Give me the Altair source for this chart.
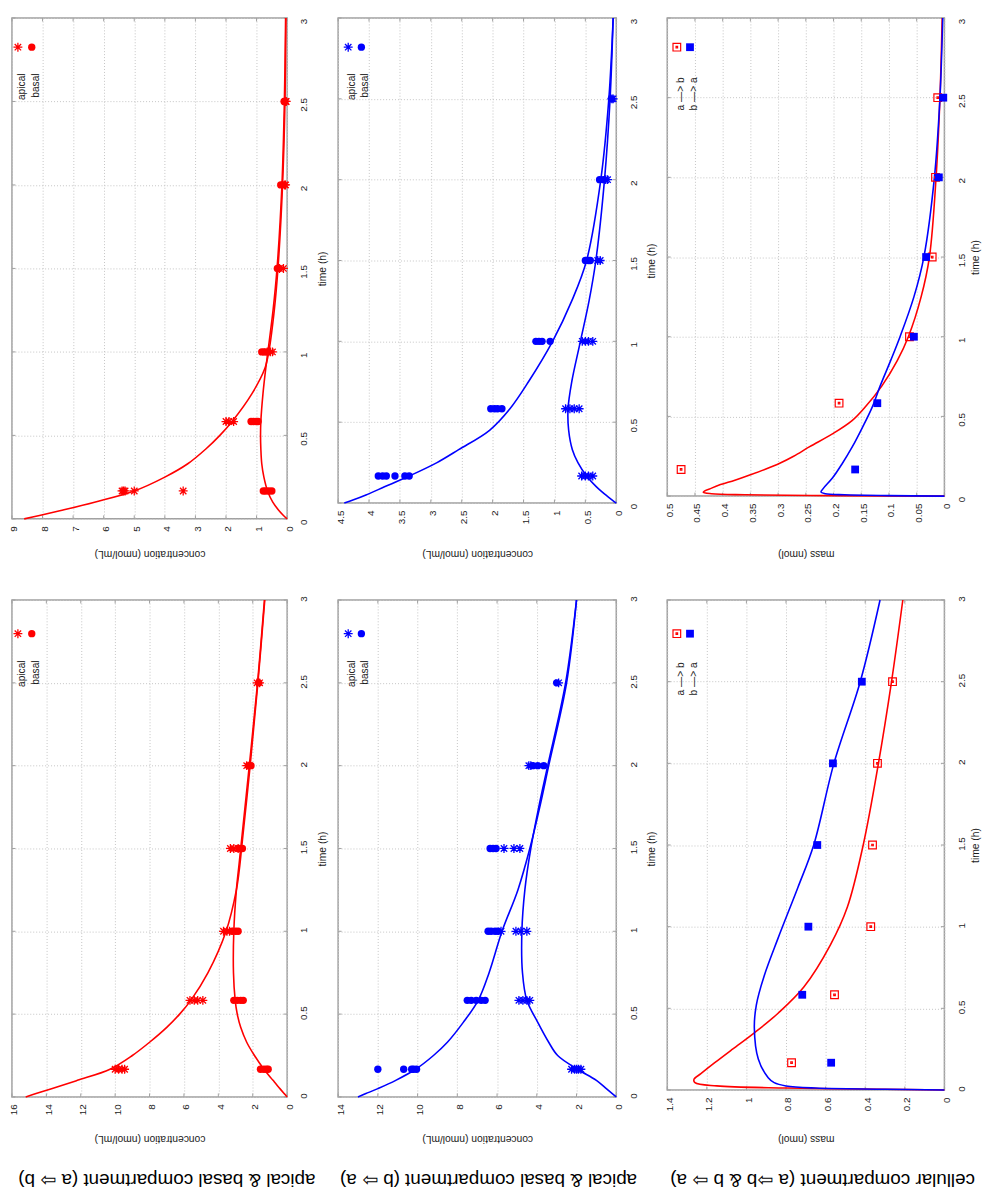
import altair as alt
import pandas as pd

# ---------------- text ----------------
COL_TITLES = ["apical & basal compartment (a ⇨ b)",
              "apical & basal compartment (b ⇨ a)",
              "cellular compartment (a ⇨b  & b ⇨ a)"]
CONC_TITLE = "concentration (nmol/mL)"
MASS_TITLE = "mass (nmol)"
TIME_TITLE = "time (h)"
LEG_AB = ["apical", "basal"]
LEG_CELL = ["a —> b", "b —> a"]

# ---------------- tick labels ----------------
TIME_TICKS = [0, 0.5, 1, 1.5, 2, 2.5, 3]
TICKS_A = [0, 1, 2, 3, 4, 5, 6, 7, 8, 9]
TICKS_B = [0, 2, 4, 6, 8, 10, 12, 14, 16]
TICKS_C = [0, 0.5, 1, 1.5, 2, 2.5, 3, 3.5, 4, 4.5]
TICKS_D = [0, 2, 4, 6, 8, 10, 12, 14]
TICKS_E = [0, 0.05, 0.1, 0.15, 0.2, 0.25, 0.3, 0.35, 0.4, 0.45, 0.5]
TICKS_F = [0, 0.2, 0.4, 0.6, 0.8, 1, 1.2, 1.4]

# ---------------- panel A: a->b, upper (0-9) ----------------
A_FIT_T = [0, 0.02, 0.05, 0.1, 0.167, 0.25, 0.33, 0.42, 0.5, 0.583, 0.75, 0.9, 1.0, 1.25, 1.5, 2.0, 2.5, 3.0]
A_FIT_APICAL = [8.6, 8.1, 7.4, 6.3, 5.0, 4.0, 3.25, 2.65, 2.2, 1.8, 1.15, 0.73, 0.6, 0.42, 0.3, 0.15, 0.07, 0.04]
A_FIT_BASAL = [0, 0.12, 0.27, 0.47, 0.64, 0.76, 0.83, 0.86, 0.87, 0.86, 0.79, 0.7, 0.63, 0.46, 0.33, 0.17, 0.09, 0.05]
A_APICAL_T = [0.167, 0.167, 0.167, 0.167, 0.167, 0.583, 0.583, 0.583, 1, 1, 1, 1.5, 1.5, 2, 2, 2.5, 2.5]
A_APICAL_V = [5.4, 5.35, 5.3, 5.0, 3.4, 2.0, 1.9, 1.75, 0.65, 0.55, 0.48, 0.25, 0.12, 0.08, 0.05, 0.05, 0.03]
A_BASAL_T = [0.167, 0.167, 0.167, 0.167, 0.583, 0.583, 0.583, 0.583, 1, 1, 1, 1.5, 1.5, 2, 2, 2.5, 2.5]
A_BASAL_V = [0.78, 0.7, 0.6, 0.5, 1.18, 1.1, 1.02, 0.95, 0.83, 0.75, 0.65, 0.32, 0.27, 0.21, 0.13, 0.1, 0.07]

# ---------------- panel B: a->b, lower (0-16) ----------------
B_FIT_T = [0, 0.02, 0.05, 0.1, 0.167, 0.25, 0.33, 0.42, 0.5, 0.583, 0.75, 1.0, 1.25, 1.4, 1.5, 2.0, 2.5, 3.0]
B_FIT_APICAL = [15.2, 14.6, 13.7, 12.2, 10.3, 9.0, 8.0, 7.0, 6.25, 5.6, 4.6, 3.55, 2.95, 2.75, 2.65, 2.15, 1.7, 1.3]
B_FIT_BASAL = [0, 0.17, 0.42, 0.82, 1.35, 1.9, 2.35, 2.7, 2.9, 3.02, 3.12, 3.1, 2.95, 2.8, 2.7, 2.2, 1.72, 1.32]
B_APICAL_T = [0.167, 0.167, 0.167, 0.167, 0.583, 0.583, 0.583, 0.583, 1, 1, 1, 1.5, 1.5, 1.5, 2, 2, 2.5, 2.5]
B_APICAL_V = [10.0, 9.8, 9.6, 9.45, 5.65, 5.4, 5.2, 4.9, 3.7, 3.5, 3.35, 3.3, 3.1, 2.85, 2.35, 2.2, 1.75, 1.6]
B_BASAL_T = [0.167, 0.167, 0.167, 0.167, 0.583, 0.583, 0.583, 0.583, 1, 1, 1, 1.5, 1.5, 2, 2, 2.5]
B_BASAL_V = [1.55, 1.35, 1.2, 1.1, 3.1, 2.9, 2.7, 2.55, 3.2, 3.0, 2.85, 2.8, 2.6, 2.25, 2.1, 1.65]

# ---------------- panel C: b->a, upper (0-4.5) ----------------
C_FIT_T = [0, 0.02, 0.05, 0.1, 0.167, 0.25, 0.33, 0.45, 0.583, 0.75, 1.0, 1.25, 1.5, 2.0, 2.5, 3.0]
C_FIT_BASAL = [4.4, 4.25, 4.05, 3.75, 3.35, 2.9, 2.55, 2.05, 1.72, 1.42, 1.03, 0.72, 0.48, 0.25, 0.12, 0.05]
C_FIT_APICAL = [0, 0.07, 0.17, 0.32, 0.48, 0.62, 0.71, 0.77, 0.78, 0.72, 0.58, 0.44, 0.33, 0.19, 0.1, 0.05]
C_APICAL_T = [0.167, 0.167, 0.167, 0.167, 0.583, 0.583, 0.583, 0.583, 1, 1, 1, 1, 1.5, 1.5, 2, 2, 2.5, 2.5]
C_APICAL_V = [0.56, 0.5, 0.45, 0.38, 0.82, 0.75, 0.68, 0.6, 0.55, 0.5, 0.45, 0.38, 0.3, 0.26, 0.17, 0.14, 0.07, 0.05]
C_BASAL_T = [0.167, 0.167, 0.167, 0.167, 0.167, 0.167, 0.583, 0.583, 0.583, 0.583, 1, 1, 1, 1, 1.5, 1.5, 1.5, 2, 2, 2.5]
C_BASAL_V = [3.85, 3.78, 3.72, 3.58, 3.42, 3.35, 2.03, 1.97, 1.92, 1.85, 1.3, 1.25, 1.2, 1.07, 0.5, 0.45, 0.42, 0.27, 0.2, 0.08]

# ---------------- panel D: b->a, lower (0-14) ----------------
D_FIT_T = [0, 0.02, 0.05, 0.1, 0.167, 0.25, 0.33, 0.45, 0.583, 0.75, 1.0, 1.25, 1.5, 1.75, 2.0, 2.5, 3.0]
D_FIT_BASAL = [13.0, 12.6, 12.0, 11.1, 10.1, 9.2, 8.5, 7.7, 6.95, 6.4, 5.75, 4.95, 4.35, 3.85, 3.4, 2.5, 2.0]
D_FIT_APICAL = [0, 0.2, 0.5, 1.0, 1.95, 2.95, 3.4, 3.95, 4.5, 4.72, 4.75, 4.6, 4.3, 3.9, 3.45, 2.55, 2.0]
D_APICAL_T = [0.167, 0.167, 0.167, 0.167, 0.167, 0.583, 0.583, 0.583, 0.583, 1, 1, 1, 1, 1.5, 1.5, 1.5, 2, 2, 2.5]
D_APICAL_V = [2.25, 2.1, 2.0, 1.9, 1.78, 4.9, 4.7, 4.5, 4.35, 5.8, 5.05, 4.8, 4.5, 5.65, 5.15, 4.85, 4.4, 4.3, 2.9]
D_BASAL_T = [0.167, 0.167, 0.167, 0.167, 0.167, 0.583, 0.583, 0.583, 0.583, 0.583, 1, 1, 1, 1, 1.5, 1.5, 1.5, 2, 2, 2, 2.5]
D_BASAL_V = [12.0, 10.7, 10.3, 10.2, 10.05, 7.5, 7.3, 7.05, 6.8, 6.6, 6.45, 6.3, 6.1, 5.95, 6.35, 6.2, 6.05, 4.2, 3.95, 3.65, 3.0]

# ---------------- panel E: cellular, upper (0-0.5) ----------------
E_T = [0.167, 0.583, 1, 1.5, 2, 2.5]
E_AB = [0.475, 0.19, 0.063, 0.022, 0.016, 0.012]
E_BA = [0.161, 0.121, 0.055, 0.033, 0.01, 0.002]
E_FIT_AB_T = [0, 0.003, 0.008, 0.015, 0.025, 0.05, 0.072, 0.1, 0.134, 0.17, 0.206, 0.25, 0.31, 0.39,
              0.475, 0.56, 0.69, 0.85, 1.0, 1.25, 1.5, 2.0, 2.5, 3.0]
E_FIT_AB = [0, 0.2, 0.36, 0.42, 0.435, 0.42, 0.404, 0.378, 0.35, 0.322, 0.297, 0.272, 0.243, 0.202,
            0.166, 0.1425, 0.113, 0.085, 0.065, 0.042, 0.027, 0.015, 0.008, 0.004]
E_FIT_BA_T = [0, 0.003, 0.008, 0.015, 0.025, 0.05, 0.113, 0.2, 0.31, 0.43, 0.56, 0.69, 0.85, 1.0,
              1.25, 1.5, 2.0, 2.5, 3.0]
E_FIT_BA = [0, 0.1, 0.18, 0.215, 0.2227, 0.218, 0.202, 0.185, 0.166, 0.148, 0.13, 0.116, 0.097, 0.08,
            0.055, 0.037, 0.018, 0.008, 0.003]

# ---------------- panel F: cellular, lower (0-1.4) ----------------
F_T = [0.167, 0.583, 1, 1.5, 2, 2.5]
F_AB = [0.772, 0.555, 0.372, 0.363, 0.338, 0.262]
F_BA = [0.572, 0.718, 0.687, 0.642, 0.563, 0.417]
F_FIT_AB_T = [0, 0.005, 0.012, 0.025, 0.045, 0.065, 0.1, 0.167, 0.25, 0.35, 0.47, 0.63, 0.89, 1.12, 1.5, 2.0, 2.5, 3.0]
F_FIT_AB = [0, 0.3, 0.8, 1.15, 1.26, 1.265, 1.23, 1.16, 1.07, 0.96, 0.84, 0.71, 0.575, 0.49, 0.41, 0.333, 0.267, 0.21]
F_FIT_BA_T = [0, 0.005, 0.012, 0.025, 0.045, 0.075, 0.19, 0.38, 0.52, 0.7, 0.93, 1.24, 1.5, 2.0, 2.5, 3.0]
F_FIT_BA = [0, 0.3, 0.65, 0.8, 0.86, 0.89, 0.94, 0.96, 0.95, 0.91, 0.84, 0.74, 0.66, 0.558, 0.425, 0.325]

# ---------------- style ----------------
FONT = "Liberation Sans"
RED = "#ff0000"
BLUE = "#0000ff"
INK = "#1a1a1a"
GRID = "#c4c4c4"
FRAME = "#a0a0a0"
STAR = "M-1,0L1,0M0,-1L0,1M-0.72,-0.72L0.72,0.72M-0.72,0.72L0.72,-0.72"
OPEN_SQUARE = "M-1,-1L1,-1L1,1L-1,1Z M-0.2,-0.2L0.2,-0.2L0.2,0.2L-0.2,0.2Z"
TICK_LEN = 3.5

# ---------------- layout (page pixels) ----------------
COL_LEFT = [11.0, 340.5, 673.0]
COL_W = [278.0, 281.0, 280.0]
ROW_TOP = [9.0, 597.0]
HEIGHTS = [[506.0, 490.0, 483.0], [502.0, 502.0, 495.0]]
TIME_LABEL_SHIFT = [3.0, -1.5]
VAL_TITLE_Y = [550.0, 1141.0]
TIME_TITLE_X = [325.0, 657.0, 984.0]
LEG_SYM_X = [[17.0, 31.0], [350.7, 364.0], [682.7, 696.0]]
LEG_SYM_Y = [38.5, 631.0]
LEG_TXT_END = [[65.0, 65.0, 69.0], [658.0, 658.0, 660.0]]
TITLE_CX = [167.5, 492.5, 830.0]
TITLE_Y = 1183.0


def marker(kind, color):
    if kind == "star":
        return dict(shape=STAR, size=81, filled=False, strokeWidth=1.3, color=color, opacity=1)
    if kind == "circle":
        return dict(shape="circle", size=55, filled=True, color=color, opacity=1)
    if kind == "square":
        return dict(shape="square", size=62, filled=True, color=color, opacity=1)
    return dict(shape=OPEN_SQUARE, size=60, filled=False, strokeWidth=1.2, color=color, opacity=1)


def make_panel(col, row, xmax, ticks, xtitle, curves, points, legend, title=None):
    L, W = COL_LEFT[col], COL_W[col]
    T, H = ROW_TOP[row], HEIGHTS[row][col]
    xaxis = alt.Axis(values=ticks, format="~g", orient="bottom", labelAngle=270,
                     labelAlign="right", labelBaseline="middle", labelPadding=7,
                     labelOffset=2, labelFlush=False, labelOverlap=False,
                     ticks=False, tickSize=0, domain=False, grid=True,
                     gridColor=GRID, gridDash=[1, 2], gridWidth=1,
                     title=xtitle, titleAngle=180, titleX=W / 2,
                     titleY=VAL_TITLE_Y[row] - (T + H), titleAlign="center",
                     titleBaseline="middle")
    yaxis = alt.Axis(values=TIME_TICKS, format="~g", orient="right", labelAngle=270,
                     labelAlign="center", labelBaseline="middle", labelPadding=17,
                     labelOffset=TIME_LABEL_SHIFT[row],
                     labelFlush=False, labelOverlap=False, ticks=False, tickSize=0,
                     domain=False, grid=True, gridColor=GRID, gridDash=[1, 2],
                     gridWidth=1, title=TIME_TITLE, titleAngle=270,
                     titleX=TIME_TITLE_X[col] - (L + W), titleY=H / 2,
                     titleAlign="center", titleBaseline="middle")
    xs = alt.Scale(domain=[0, xmax], reverse=True, nice=False)
    ys = alt.Scale(domain=[0, 3], nice=False)
    X = alt.X("v:Q", scale=xs, axis=xaxis)
    Y = alt.Y("t:Q", scale=ys, axis=yaxis)
    layers = []
    # inward border ticks (mirror ticks on all four sides)
    vt = pd.DataFrame({"v": ticks})
    tt = pd.DataFrame({"t": TIME_TICKS})
    tick_mark = dict(color=FRAME, strokeWidth=1)
    layers.append(alt.Chart(vt).mark_rule(**tick_mark).encode(
        x=X, y=alt.value(0), y2=alt.value(TICK_LEN)))
    layers.append(alt.Chart(vt).mark_rule(**tick_mark).encode(
        x=X, y=alt.value(H - TICK_LEN), y2=alt.value(H)))
    layers.append(alt.Chart(tt).mark_rule(**tick_mark).encode(
        y=Y, x=alt.value(0), x2=alt.value(TICK_LEN)))
    layers.append(alt.Chart(tt).mark_rule(**tick_mark).encode(
        y=Y, x=alt.value(W - TICK_LEN), x2=alt.value(W)))
    for t, v, color in curves:
        df = pd.DataFrame({"t": t, "v": v})
        layers.append(alt.Chart(df).mark_line(color=color, strokeWidth=1.6,
                                              interpolate="catmull-rom").encode(
            x=X, y=Y, order=alt.Order("t:Q")))
    for t, v, kind, color in points:
        df = pd.DataFrame({"t": t, "v": v})
        layers.append(alt.Chart(df).mark_point(**marker(kind, color)).encode(x=X, y=Y))
    for i, (label, kind, color) in enumerate(legend):
        df = pd.DataFrame({"label": [label]})
        sx = LEG_SYM_X[col][i] - L
        sy = LEG_SYM_Y[row] - T
        layers.append(alt.Chart(df).mark_point(**marker(kind, color)).encode(
            x=alt.value(sx), y=alt.value(sy)))
        layers.append(alt.Chart(df).mark_text(angle=270, align="right", baseline="middle",
                                              fontSize=10.3, font=FONT, color=INK).encode(
            x=alt.value(sx + 4), y=alt.value(LEG_TXT_END[row][col] - T), text="label:N"))
    if title is not None:
        df = pd.DataFrame({"label": [title]})
        layers.append(alt.Chart(df).mark_text(angle=180, align="center", baseline="middle",
                                              fontSize=19, font=FONT, color="#000000").encode(
            x=alt.value(TITLE_CX[col] - L), y=alt.value(TITLE_Y - T), text="label:N"))
    return alt.layer(*layers).properties(width=W, height=H)


pA = make_panel(0, 0, 9, TICKS_A, CONC_TITLE,
                [(A_FIT_T, A_FIT_APICAL, RED), (A_FIT_T, A_FIT_BASAL, RED)],
                [(A_APICAL_T, A_APICAL_V, "star", RED), (A_BASAL_T, A_BASAL_V, "circle", RED)],
                [(LEG_AB[0], "star", RED), (LEG_AB[1], "circle", RED)])
pC = make_panel(1, 0, 4.5, TICKS_C, CONC_TITLE,
                [(C_FIT_T, C_FIT_BASAL, BLUE), (C_FIT_T, C_FIT_APICAL, BLUE)],
                [(C_APICAL_T, C_APICAL_V, "star", BLUE), (C_BASAL_T, C_BASAL_V, "circle", BLUE)],
                [(LEG_AB[0], "star", BLUE), (LEG_AB[1], "circle", BLUE)])
pE = make_panel(2, 0, 0.5, TICKS_E, MASS_TITLE,
                [(E_FIT_AB_T, E_FIT_AB, RED), (E_FIT_BA_T, E_FIT_BA, BLUE)],
                [(E_T, E_AB, "opensq", RED), (E_T, E_BA, "square", BLUE)],
                [(LEG_CELL[0], "opensq", RED), (LEG_CELL[1], "square", BLUE)])
pB = make_panel(0, 1, 16, TICKS_B, CONC_TITLE,
                [(B_FIT_T, B_FIT_APICAL, RED), (B_FIT_T, B_FIT_BASAL, RED)],
                [(B_APICAL_T, B_APICAL_V, "star", RED), (B_BASAL_T, B_BASAL_V, "circle", RED)],
                [(LEG_AB[0], "star", RED), (LEG_AB[1], "circle", RED)],
                title=COL_TITLES[0])
pD = make_panel(1, 1, 14, TICKS_D, CONC_TITLE,
                [(D_FIT_T, D_FIT_BASAL, BLUE), (D_FIT_T, D_FIT_APICAL, BLUE)],
                [(D_APICAL_T, D_APICAL_V, "star", BLUE), (D_BASAL_T, D_BASAL_V, "circle", BLUE)],
                [(LEG_AB[0], "star", BLUE), (LEG_AB[1], "circle", BLUE)],
                title=COL_TITLES[1])
pF = make_panel(2, 1, 1.4, TICKS_F, MASS_TITLE,
                [(F_FIT_AB_T, F_FIT_AB, RED), (F_FIT_BA_T, F_FIT_BA, BLUE)],
                [(F_T, F_AB, "opensq", RED), (F_T, F_BA, "square", BLUE)],
                [(LEG_CELL[0], "opensq", RED), (LEG_CELL[1], "square", BLUE)],
                title=COL_TITLES[2])

chart = alt.concat(pA, pC, pE, pB, pD, pF, columns=3,
                   spacing={"row": ROW_TOP[1] - ROW_TOP[0] - max(HEIGHTS[0]), "column": 51.5},
                   bounds="flush", align="each", padding=0).configure_view(
    stroke=FRAME, strokeWidth=1.5).configure_axis(
    labelFont=FONT, titleFont=FONT, labelFontSize=10, titleFontSize=10.4,
    labelColor=INK, titleColor=INK, titleFontWeight="normal")

chart.save("out.html", embed_options={"renderer": "svg", "actions": False})
